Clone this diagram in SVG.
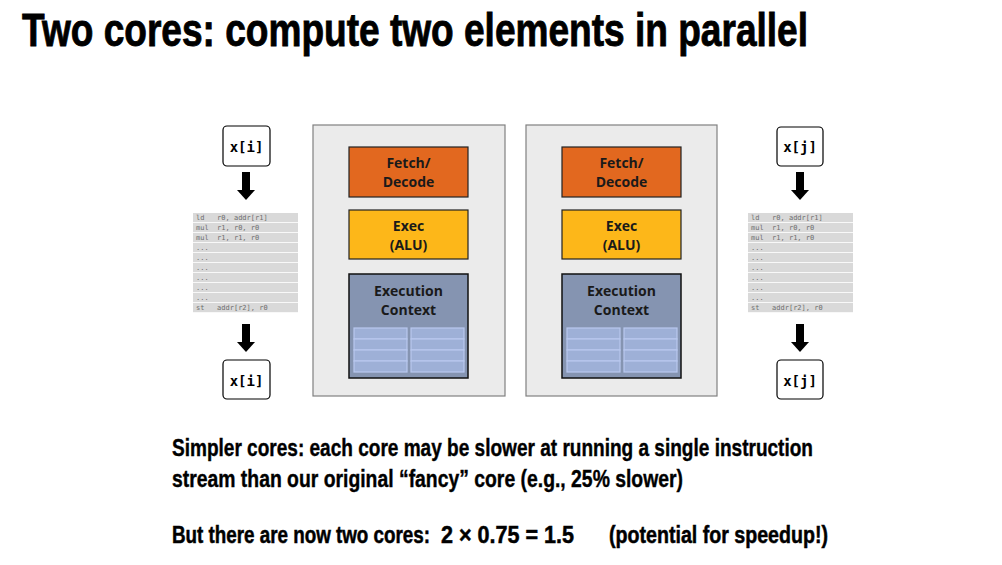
<svg xmlns="http://www.w3.org/2000/svg" width="1002" height="565" viewBox="0 0 1002 565">
<defs>
<style>
.title{font-family:"Liberation Sans Narrow","Liberation Sans",sans-serif;font-weight:bold;font-size:38px;fill:#000;stroke:#000;stroke-width:0.7}
.body{font-family:"Liberation Sans Narrow","Liberation Sans",sans-serif;font-weight:bold;font-size:24px;fill:#000;stroke:#000;stroke-width:0.4}
.body3{font-family:"Liberation Sans Narrow","Liberation Sans",sans-serif;font-weight:bold;font-size:19px;fill:#000;stroke:#000;stroke-width:0.4}
.lbl{font-family:"Open Sans","Liberation Sans",sans-serif;font-weight:bold;font-size:14px;fill:#1a1a1a;text-anchor:middle}
.var{font-family:"DejaVu Sans Mono","Liberation Mono",monospace;font-weight:bold;font-size:14px;fill:#000;text-anchor:middle}
.vbox{fill:#fff;stroke:#000;stroke-width:1.2}
.core{fill:#ebebeb;stroke:#808080;stroke-width:1.2}
.fetch{fill:#e2681f;stroke:#222;stroke-width:1.2}
.exec{fill:#fdb719;stroke:#222;stroke-width:1.2}
.ctx{fill:#8594b1;stroke:#111;stroke-width:1.5}
.cell{fill:#9eb0d7;stroke:#b9c9ef;stroke-width:1.2}
.row{fill:#d9d9d9}
.code{font-family:"DejaVu Sans Mono","Liberation Mono",monospace;font-size:7px;fill:#6e6e6e;white-space:pre}
</style>
<g id="arrow">
<rect x="-4" y="0" width="8" height="19" fill="#000"/>
<polygon points="-9,18 9,18 0,28" fill="#000"/>
</g>
<g id="listing">
<rect class="row" x="0" y="0" width="105" height="9.2"/>
<rect class="row" x="0" y="10" width="105" height="9.2"/>
<rect class="row" x="0" y="20" width="105" height="9.2"/>
<rect class="row" x="0" y="30" width="105" height="9.2"/>
<rect class="row" x="0" y="40" width="105" height="9.2"/>
<rect class="row" x="0" y="50" width="105" height="9.2"/>
<rect class="row" x="0" y="60" width="105" height="9.2"/>
<rect class="row" x="0" y="70" width="105" height="9.2"/>
<rect class="row" x="0" y="80" width="105" height="9.2"/>
<rect class="row" x="0" y="90" width="105" height="9.2"/>
<text class="code" x="3" y="7" xml:space="preserve">ld   r0, addr[r1]</text>
<text class="code" x="3" y="17" xml:space="preserve">mul  r1, r0, r0</text>
<text class="code" x="3" y="27" xml:space="preserve">mul  r1, r1, r0</text>
<text class="code" x="3" y="37">...</text>
<text class="code" x="3" y="47">...</text>
<text class="code" x="3" y="57">...</text>
<text class="code" x="3" y="67">...</text>
<text class="code" x="3" y="77">...</text>
<text class="code" x="3" y="87">...</text>
<text class="code" x="3" y="97" xml:space="preserve">st   addr[r2], r0</text>
</g>
</defs>
<rect width="1002" height="565" fill="#fff"/>
<text class="title" transform="translate(22,46) scale(1,1.24)" x="0" y="0" textLength="786" lengthAdjust="spacingAndGlyphs">Two cores: compute two elements in parallel</text>

<g id="in-i">
<rect class="vbox" x="223" y="126" width="47" height="40" rx="4"/>
<text class="var" x="246.5" y="152">x[i]</text>
</g>
<g id="listing-i"><use href="#listing" x="193" y="213"/></g>
<g id="out-i">
<rect class="vbox" x="223" y="360" width="47" height="39" rx="4"/>
<text class="var" x="246.5" y="386">x[i]</text>
</g>

<g id="core1">
<rect class="core" x="313" y="125" width="192" height="271"/>
<rect class="fetch" x="349" y="147" width="119" height="50"/>
<text class="lbl" x="408.5" y="168">Fetch/</text>
<text class="lbl" x="408.5" y="187">Decode</text>
<rect class="exec" x="349" y="210" width="119" height="49"/>
<text class="lbl" x="408.5" y="231">Exec</text>
<text class="lbl" x="408.5" y="250">(ALU)</text>
<rect class="ctx" x="349" y="274" width="119" height="104"/>
<text class="lbl" x="408.5" y="296">Execution</text>
<text class="lbl" x="408.5" y="315">Context</text>
<rect class="cell" x="354" y="328" width="53" height="11"/>
<rect class="cell" x="354" y="339" width="53" height="11"/>
<rect class="cell" x="354" y="350" width="53" height="11"/>
<rect class="cell" x="354" y="361" width="53" height="11"/>
<rect class="cell" x="411" y="328" width="53" height="11"/>
<rect class="cell" x="411" y="339" width="53" height="11"/>
<rect class="cell" x="411" y="350" width="53" height="11"/>
<rect class="cell" x="411" y="361" width="53" height="11"/>
</g>

<g id="core2">
<rect class="core" x="526" y="125" width="191" height="271"/>
<rect class="fetch" x="562" y="147" width="119" height="50"/>
<text class="lbl" x="621.5" y="168">Fetch/</text>
<text class="lbl" x="621.5" y="187">Decode</text>
<rect class="exec" x="562" y="210" width="119" height="49"/>
<text class="lbl" x="621.5" y="231">Exec</text>
<text class="lbl" x="621.5" y="250">(ALU)</text>
<rect class="ctx" x="562" y="274" width="119" height="104"/>
<text class="lbl" x="621.5" y="296">Execution</text>
<text class="lbl" x="621.5" y="315">Context</text>
<rect class="cell" x="567" y="328" width="53" height="11"/>
<rect class="cell" x="567" y="339" width="53" height="11"/>
<rect class="cell" x="567" y="350" width="53" height="11"/>
<rect class="cell" x="567" y="361" width="53" height="11"/>
<rect class="cell" x="624" y="328" width="53" height="11"/>
<rect class="cell" x="624" y="339" width="53" height="11"/>
<rect class="cell" x="624" y="350" width="53" height="11"/>
<rect class="cell" x="624" y="361" width="53" height="11"/>
</g>

<g id="in-j">
<rect class="vbox" x="777" y="127" width="46" height="39" rx="4"/>
<text class="var" x="800" y="152">x[j]</text>
</g>
<g id="listing-j"><use href="#listing" x="748" y="213"/></g>
<g id="out-j">
<rect class="vbox" x="777" y="360" width="46" height="39" rx="4"/>
<text class="var" x="800" y="386">x[j]</text>
</g>

<g id="connectors">
<use href="#arrow" x="246" y="172"/>
<use href="#arrow" x="246" y="324"/>
<use href="#arrow" x="800" y="172"/>
<use href="#arrow" x="800" y="324"/>
</g>

<text class="body" x="172" y="456" textLength="641" lengthAdjust="spacingAndGlyphs">Simpler cores: each core may be slower at running a single instruction</text>
<text class="body" x="172" y="487" textLength="511" lengthAdjust="spacingAndGlyphs">stream than our original “fancy” core (e.g., 25% slower)</text>
<text class="body3" transform="translate(0,543) scale(1,1.27)" y="0"><tspan x="172" textLength="258" lengthAdjust="spacingAndGlyphs">But there are now two cores:</tspan><tspan x="441" textLength="133" lengthAdjust="spacingAndGlyphs">2 × 0.75 = 1.5</tspan><tspan x="609" textLength="219" lengthAdjust="spacingAndGlyphs">(potential for speedup!)</tspan></text>
</svg>
